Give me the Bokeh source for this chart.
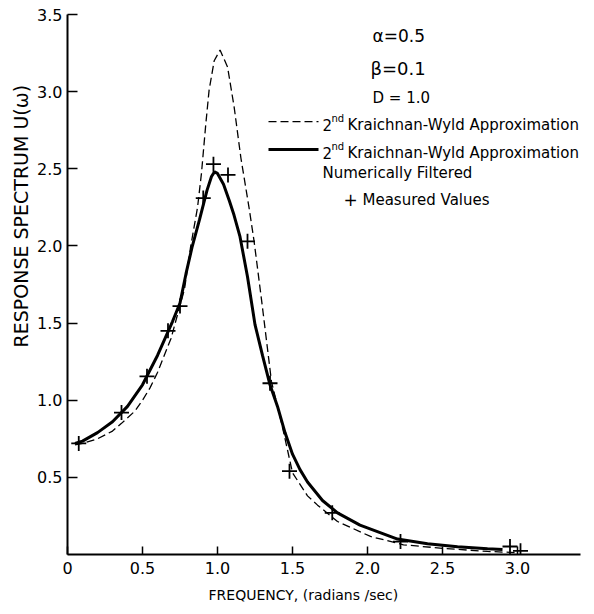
from bokeh.plotting import figure
from bokeh.models import Range1d, FixedTicker, Label, Title, PrintfTickFormatter
from bokeh.embed import file_html
from bokeh.resources import INLINE

# ---- data ----
freq_kw2 = [0.05, 0.10, 0.20, 0.30, 0.36, 0.45, 0.50, 0.55, 0.60, 0.69, 0.78, 0.82,
            0.867, 0.893, 0.922, 0.944, 0.978, 1.017, 1.067, 1.111, 1.156, 1.21, 1.244,
            1.278, 1.30, 1.36, 1.43, 1.50, 1.60, 1.667, 1.80, 2.02, 2.24, 2.50, 2.80, 3.00]
u_kw2 = [0.71, 0.72, 0.75, 0.80, 0.85, 0.93, 1.00, 1.08, 1.18, 1.40, 1.72, 1.99,
         2.25, 2.47, 2.79, 3.01, 3.20, 3.27, 3.16, 2.90, 2.57, 2.25, 2.03,
         1.77, 1.60, 1.12, 0.84, 0.53, 0.38, 0.32, 0.214, 0.117, 0.063, 0.04, 0.02, 0.012]

freq_filtered = [0.05, 0.10, 0.20, 0.30, 0.40, 0.50, 0.60, 0.70, 0.75, 0.79, 0.83, 0.88,
                 0.93, 0.96, 0.98, 1.00, 1.04, 1.08, 1.11, 1.15, 1.20, 1.25, 1.30, 1.35,
                 1.40, 1.45, 1.50, 1.55, 1.60, 1.70, 1.80, 1.95, 2.20, 2.40, 2.60, 2.80, 2.90]
u_filtered = [0.72, 0.735, 0.79, 0.86, 0.96, 1.10, 1.29, 1.51, 1.63, 1.82, 1.99, 2.17,
              2.36, 2.45, 2.48, 2.47, 2.40, 2.29, 2.20, 2.06, 1.80, 1.49, 1.29, 1.10,
              0.96, 0.79, 0.65, 0.55, 0.47, 0.35, 0.27, 0.19, 0.10, 0.07, 0.05, 0.037, 0.032]

meas_freq = [0.075, 0.36, 0.53, 0.67, 0.75, 0.905, 0.973, 1.07, 1.20, 1.35, 1.48,
             1.765, 2.22, 2.95, 3.02]
meas_u = [0.72, 0.92, 1.155, 1.45, 1.61, 2.31, 2.53, 2.46, 2.03, 1.11, 0.54,
          0.27, 0.084, 0.052, 0.024]

x_ticks = [0, 0.5, 1.0, 1.5, 2.0, 2.5, 3.0]
y_ticks = [0.5, 1.0, 1.5, 2.0, 2.5, 3.0, 3.5]

FONT = "DejaVu Sans"

p = figure(width=594, height=614, x_range=Range1d(0, 3.42), y_range=Range1d(0, 3.5),
           output_backend="svg", toolbar_location=None,
           min_border_left=67, min_border_right=14, min_border_top=14, min_border_bottom=60)
p.outline_line_color = None
p.grid.visible = False
p.background_fill_color = "white"

for ax in (p.xaxis, p.yaxis):
    ax.axis_line_width = 2
    ax.axis_line_color = "black"
    ax.major_tick_line_width = 1.5
    ax.major_tick_line_color = "black"
    ax.minor_tick_line_color = None
    ax.major_tick_out = 0
    ax.major_label_text_font = FONT
    ax.major_label_text_font_size = "16px"
    ax.major_label_text_color = "black"
    ax.formatter = PrintfTickFormatter(format="%.1f")

p.xaxis.ticker = FixedTicker(ticks=x_ticks)
p.xaxis.major_label_overrides = {0.0: "0"}
p.xaxis.major_tick_in = 8
p.xaxis.major_label_standoff = 7
p.yaxis.ticker = FixedTicker(ticks=y_ticks)
p.yaxis.major_tick_in = 10
p.yaxis.major_label_standoff = 5

# axis titles (as titles so they can be offset like in the reference)
p.add_layout(Title(text="FREQUENCY, (radians /sec)", align="left", offset=141,
                   text_font=FONT, text_font_size="14px", text_font_style="normal",
                   text_color="black", standoff=16), "below")
p.add_layout(Title(text="RESPONSE SPECTRUM U(ω)", align="left", offset=207,
                   text_font=FONT, text_font_size="19px", text_font_style="normal",
                   text_color="black", standoff=5), "left")

# curves
p.line(freq_kw2, u_kw2, line_color="black", line_width=1.3, line_dash="8 4")
p.line(freq_filtered, u_filtered, line_color="black", line_width=3)
p.scatter(meas_freq, meas_u, marker="cross", size=15, line_width=1.8, line_color="black")

# pixel -> data helpers for annotation placement
def dx(px):
    return (px - 67) / 150.0

def dy(py):
    return (554 - py) / 154.3

def lab(text, px, py, size="15px"):
    p.add_layout(Label(x=dx(px), y=dy(py), text=text, text_font=FONT,
                       text_font_size=size, text_align="left", text_baseline="middle",
                       text_color="black"))

# parameters
lab("α=0.5", 372, 35, size="17px")
lab("β=0.1", 370, 68, size="18px")
lab("D = 1.0", 372, 97, size="15px")

# legend
p.segment(x0=[dx(268)], y0=[dy(121)], x1=[dx(318)], y1=[dy(121)],
          line_color="black", line_width=1.3, line_dash="8 4")
p.segment(x0=[dx(268)], y0=[dy(149)], x1=[dx(318)], y1=[dy(149)],
          line_color="black", line_width=3)
for yy in (124, 152):
    lab("2", 322, yy, size="15px")
    lab("nd", 331, yy - 6, size="10px")
    lab("Kraichnan-Wyld Approximation", 347, yy, size="15px")
lab("Numerically Filtered", 322, 172, size="15px")
lab("+", 343, 199, size="17px")
lab("Measured Values", 362, 199, size="15px")

open("out.html", "w").write(file_html(p, INLINE))
